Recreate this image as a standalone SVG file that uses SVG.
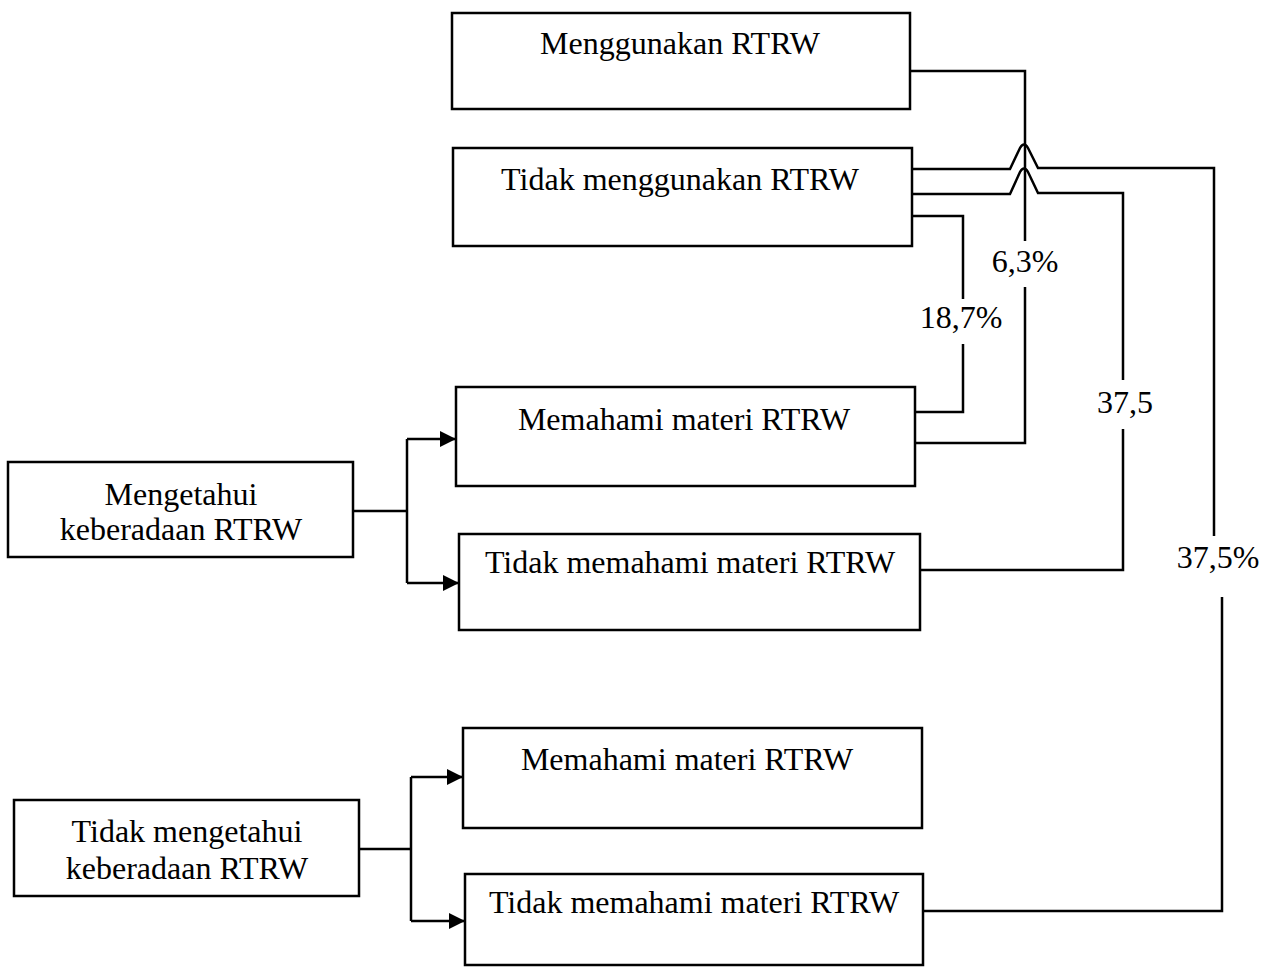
<svg xmlns="http://www.w3.org/2000/svg" width="1264" height="970" viewBox="0 0 1264 970">
  <style>
    .box { fill: #ffffff; stroke: #000000; stroke-width: 2.5; }
    .lbl { font-family: "Liberation Serif", "Times New Roman", serif; font-size: 32px; fill: #000000; text-anchor: middle; }
    .wire { fill: none; stroke: #000000; stroke-width: 2.5; stroke-linejoin: miter; }
  </style>
  <defs>
    <marker id="arrow" viewBox="0 0 16 16" refX="16" refY="8" markerWidth="16" markerHeight="16" markerUnits="userSpaceOnUse" orient="auto">
      <path d="M0 0 L16 8 L0 16 Z" fill="#000000"/>
    </marker>
  </defs>

  <rect width="1264" height="970" fill="#ffffff"/>

  <!-- connectors -->
  <g id="connectors">
    <!-- Mengetahui -> both Memahami options -->
    <path class="wire" d="M353 511 H407"/>
    <path class="wire" d="M407 439 V583"/>
    <path class="wire" d="M407 439 H456" marker-end="url(#arrow)"/>
    <path class="wire" d="M407 583 H459" marker-end="url(#arrow)"/>

    <!-- Tidak mengetahui -> both Memahami options -->
    <path class="wire" d="M359 849 H411"/>
    <path class="wire" d="M411 777 V921"/>
    <path class="wire" d="M411 777 H463" marker-end="url(#arrow)"/>
    <path class="wire" d="M411 921 H465" marker-end="url(#arrow)"/>

    <!-- Menggunakan RTRW <- Memahami materi (6,3%) -->
    <path class="wire" d="M910 71 H1025 V241"/>
    <path class="wire" d="M1025 287 V443 H915"/>

    <!-- Tidak menggunakan RTRW <- lower Tidak memahami (37,5%), hopping over the 6,3% line -->
    <path class="wire" d="M912 169 H1010 L1020 148 Q1024 141 1028 148 L1038 168 H1214 V536"/>
    <path class="wire" d="M1222 597 V911 H923"/>

    <!-- Tidak menggunakan RTRW <- upper Tidak memahami (37,5) -->
    <path class="wire" d="M912 194 H1010 L1020 172 Q1024 165 1028 172 L1038 193 H1123 V380"/>
    <path class="wire" d="M1123 429 V570 H921"/>

    <!-- Tidak menggunakan RTRW <- Memahami materi (18,7%) -->
    <path class="wire" d="M912 216 H963 V299"/>
    <path class="wire" d="M963 344 V412 H915"/>

    <!-- percentages -->
    <text class="lbl" x="1025" y="272">6,3%</text>
    <text class="lbl" x="961" y="328">18,7%</text>
    <text class="lbl" x="1125" y="413">37,5</text>
    <text class="lbl" x="1218" y="568">37,5%</text>
  </g>

  <g id="menggunakan">
    <rect class="box" x="452" y="13" width="458" height="96"/>
    <text class="lbl" x="680" y="54">Menggunakan RTRW</text>
  </g>

  <g id="tidak-menggunakan">
    <rect class="box" x="453" y="148" width="459" height="98"/>
    <text class="lbl" x="680" y="190">Tidak menggunakan RTRW</text>
  </g>

  <g id="memahami-1">
    <rect class="box" x="456" y="387" width="459" height="99"/>
    <text class="lbl" x="684" y="430">Memahami materi RTRW</text>
  </g>

  <g id="tidak-memahami-1">
    <rect class="box" x="459" y="534" width="461" height="96"/>
    <text class="lbl" x="690" y="573">Tidak memahami materi RTRW</text>
  </g>

  <g id="mengetahui">
    <rect class="box" x="8" y="462" width="345" height="95"/>
    <text class="lbl" x="181" y="505">Mengetahui</text>
    <text class="lbl" x="181" y="540">keberadaan RTRW</text>
  </g>

  <g id="memahami-2">
    <rect class="box" x="463" y="728" width="459" height="100"/>
    <text class="lbl" x="687" y="770">Memahami materi RTRW</text>
  </g>

  <g id="tidak-memahami-2">
    <rect class="box" x="465" y="874" width="458" height="91"/>
    <text class="lbl" x="694" y="913">Tidak memahami materi RTRW</text>
  </g>

  <g id="tidak-mengetahui">
    <rect class="box" x="14" y="800" width="345" height="96"/>
    <text class="lbl" x="187" y="842">Tidak mengetahui</text>
    <text class="lbl" x="187" y="879">keberadaan RTRW</text>
  </g>
</svg>
